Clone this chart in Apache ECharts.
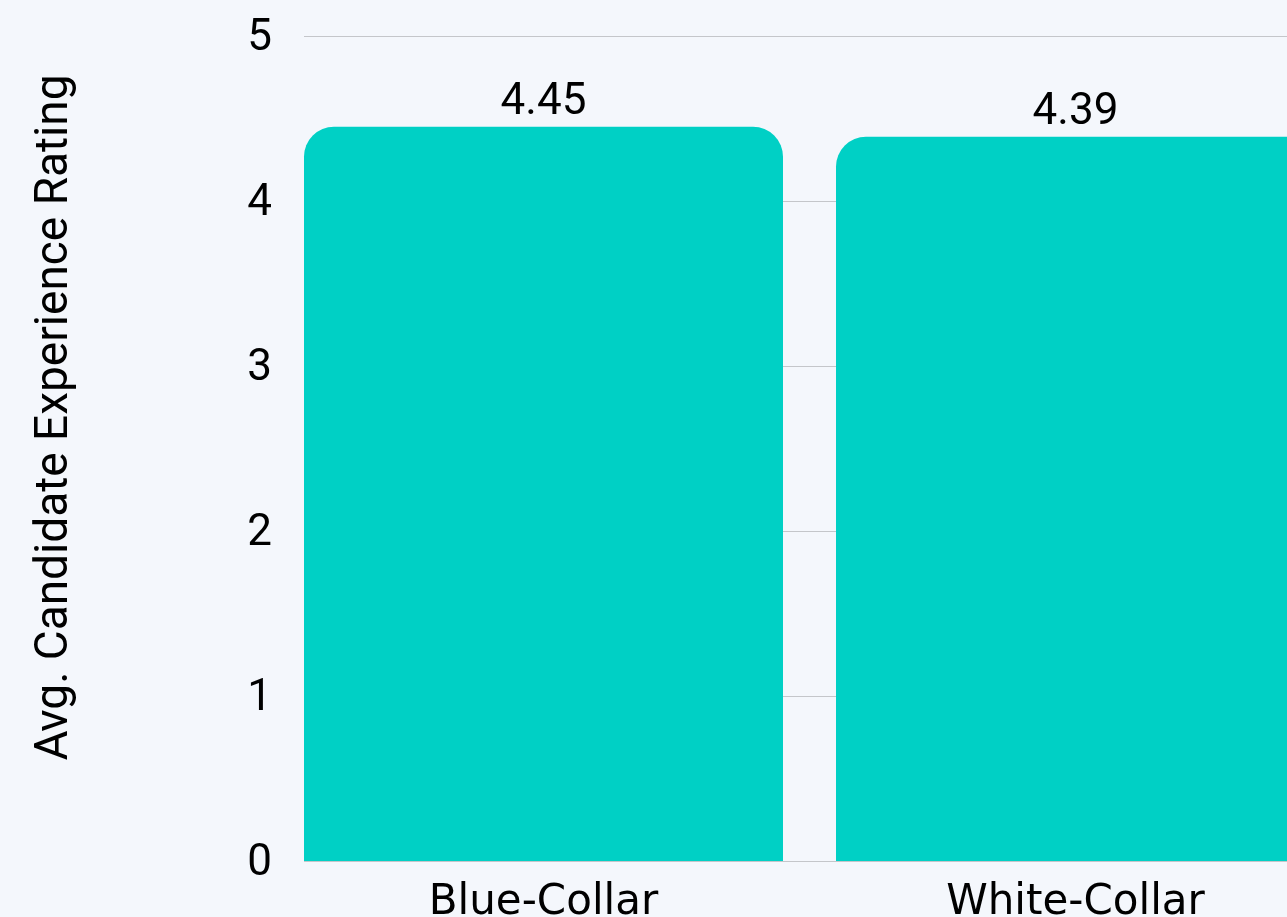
<!DOCTYPE html>
<html>
<head>
<meta charset="utf-8">
<script src="https://cdn.jsdelivr.net/npm/echarts@6/dist/echarts.min.js"></script>
<style>
html,body{margin:0;padding:0;background:#F4F7FC;}
#chart{width:1287px;height:917px;}
</style>
</head>
<body>
<div id="chart"></div>
<script>
const categories = ['Blue-Collar', 'White-Collar'];
const ratings = [4.45, 4.39];
const yTicks = [0, 1, 2, 3, 4, 5];
const yTitle = 'Avg. Candidate Experience Rating';

const chart = echarts.init(document.getElementById('chart'));
const option = {
  backgroundColor: '#F4F7FC',
  animation: false,
  grid: [
    { left: 304, width: 1038, top: 36, height: 825, outerBoundsMode: 'none', containLabel: false },
    { left: 277.5, width: 1064, top: 36, height: 825, outerBoundsMode: 'none', containLabel: false }
  ],
  xAxis: [
    { gridIndex: 0, type: 'value', show: false, min: 0, max: 1 },
    {
      gridIndex: 1, type: 'category', data: categories,
      axisLine: { show: false }, axisTick: { show: false },
      axisLabel: { color: '#000', fontSize: 42, fontFamily: 'DejaVu Sans', margin: 21 }
    }
  ],
  yAxis: [
    {
      gridIndex: 0, type: 'value', min: yTicks[0], max: yTicks[yTicks.length - 1], interval: 1,
      axisLine: { show: false }, axisTick: { show: false },
      axisLabel: {
        color: '#000', fontSize: 44, fontFamily: 'Roboto', margin: 32,
        formatter: v => '{t|' + v + '}',
        rich: { t: { color: '#000', fontSize: 44, fontFamily: 'Roboto', padding: [6, 0, 0, 0] } }
      },
      splitLine: { lineStyle: { color: '#C4C6CA', width: 1 } },
      name: yTitle, nameLocation: 'middle', nameGap: 226, nameRotate: 90,
      nameTextStyle: { color: '#000', fontSize: 46, fontFamily: 'Roboto', padding: [0, 0, 0, 62] }
    },
    { gridIndex: 1, type: 'value', min: 0, max: 5, show: false }
  ],
  series: [{
    type: 'bar', xAxisIndex: 1, yAxisIndex: 1,
    data: ratings, barWidth: 479,
    itemStyle: { color: '#00D0C5', borderRadius: [30, 30, 0, 0] },
    label: { show: true, position: 'top', distance: 2, color: '#000', fontSize: 44, fontFamily: 'Roboto',
      formatter: p => p.value.toFixed(2) }
  }]
};
chart.setOption(option);
</script>
</body>
</html>
